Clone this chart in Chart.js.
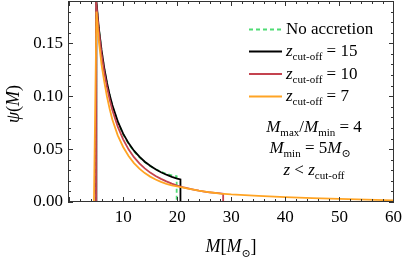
<!DOCTYPE html>
<html>
<head>
<meta charset="utf-8">
<script src="https://cdn.jsdelivr.net/npm/chart.js@4.4.1/dist/chart.umd.min.js"></script>
<style>
  html, body { margin: 0; padding: 0; background: #fff; }
  #wrap { width: 404px; height: 262px; }
</style>
</head>
<body>
<div id="wrap"><canvas id="psi-chart"></canvas></div>
<script>
// Values
const xTicks = [10, 20, 30, 40, 50, 60];
const yTicks = [0, 0.05, 0.10, 0.15];

const noAccM   = [0, 5, 5, 5.5, 6, 6.5, 7, 7.5, 8, 9, 10, 11, 12, 13, 14, 15, 16, 17, 18, 19, 19.9, 19.9, 60.1];
const noAccPsi = [0, 0, 0.19, 0.1636, 0.1427, 0.1258, 0.112, 0.1005, 0.0908, 0.0755, 0.064, 0.0551, 0.048, 0.0424, 0.0378, 0.034, 0.031, 0.0286, 0.0266, 0.0252, 0.0243, 0, 0];

const z15M   = [0, 5.05, 5.05, 5.5, 6, 6.5, 7, 7.5, 8, 9, 10, 11, 12, 13, 14, 15, 16, 17, 18, 19, 20, 20.6, 20.6, 60.1];
const z15Psi = [0, 0, 0.19, 0.1645, 0.1437, 0.1268, 0.113, 0.1013, 0.0916, 0.0762, 0.0646, 0.0557, 0.0485, 0.0428, 0.0381, 0.0342, 0.0309, 0.0281, 0.0258, 0.0238, 0.0222, 0.0214, 0, 0];

const z10M   = [0, 5, 5, 5.5, 6, 6.5, 7, 7.5, 8, 9, 10, 11, 12, 13, 14, 15, 16, 17, 18, 19, 20, 21, 22, 23, 24, 25, 26, 27, 28, 28.5, 28.5, 60.1];
const z10Psi = [0, 0, 0.19, 0.162, 0.14, 0.123, 0.109, 0.097, 0.087, 0.0712, 0.0592, 0.0498, 0.0424, 0.0365, 0.0318, 0.0278, 0.0246, 0.0219, 0.0195, 0.0174, 0.0155, 0.014, 0.0128, 0.0117, 0.0107, 0.0099, 0.0092, 0.0086, 0.0081, 0.0078, 0, 0];

const z7M   = [0, 4.6, 5.07, 5.5, 6, 6.5, 7, 7.5, 8, 9, 10, 11, 12, 13, 14, 15, 16, 17, 18, 19, 20, 22, 24, 26, 28, 30, 35, 40, 45, 50, 55, 60.1];
const z7Psi = [0, 0, 0.18, 0.152, 0.13, 0.114, 0.1, 0.088, 0.078, 0.063, 0.052, 0.0435, 0.0368, 0.0315, 0.0273, 0.024, 0.0213, 0.019, 0.0172, 0.0158, 0.0147, 0.0126, 0.0107, 0.0092, 0.008, 0.0072, 0.0058, 0.0047, 0.0037, 0.0029, 0.0022, 0.0016];

const seriesNames = ['No accretion', 'z_cut-off = 15', 'z_cut-off = 10', 'z_cut-off = 7'];
const cutoffs = [15, 10, 7];
const seriesColors = ['#4fdc74', '#000000', '#c4434f', '#ffa424'];

const SERIF = '"Liberation Serif", "DejaVu Serif", serif';

function toPoints(ms, ps) {
    return ms.map((m, i) => ({ x: m, y: ps[i] }));
}

// draw a run list like [{t:'z', it:true}, {t:'cut-off', sub:true}, {t:' = 15'}]
function drawRich(ctx, runs, x, y, align, size) {
    const fontFor = r => (r.it ? 'italic ' : '') + (r.sub ? Math.round(size * 0.62) : size) + 'px ' + SERIF;
    let w = 0;
    runs.forEach(r => { ctx.font = fontFor(r); w += ctx.measureText(r.t).width; });
    let cx = align === 'center' ? x - w / 2 : x;
    runs.forEach(r => {
        ctx.font = fontFor(r);
        ctx.fillText(r.t, cx, y + (r.sub ? size * 0.25 : 0));
        cx += ctx.measureText(r.t).width;
    });
}

// Frame with inward ticks on all four sides, legend and annotations
const framePlugin = {
    id: 'frame',
    afterDatasetsDraw(chart) {
        const { ctx, chartArea: a, scales: { x, y } } = chart;
        ctx.save();
        ctx.strokeStyle = '#333';
        ctx.lineWidth = 1;
        ctx.strokeRect(a.left + 0.5, a.top + 0.5, a.right - a.left - 1, a.bottom - a.top - 1);

        ctx.beginPath();
        for (let m = 0; m <= 60; m += 2) {
            const px = Math.round(x.getPixelForValue(m)) + 0.5;
            const len = m % 10 === 0 ? 5 : 3;
            ctx.moveTo(px, a.bottom); ctx.lineTo(px, a.bottom - len);
            ctx.moveTo(px, a.top); ctx.lineTo(px, a.top + len);
        }
        for (let k = 0; k <= 19; k++) {
            const py = Math.round(y.getPixelForValue(k / 100)) + 0.5;
            const len = k % 5 === 0 ? 5 : 3;
            ctx.moveTo(a.left, py); ctx.lineTo(a.left + len, py);
            ctx.moveTo(a.right, py); ctx.lineTo(a.right - len, py);
        }
        ctx.stroke();

        // legend
        ctx.fillStyle = '#000';
        ctx.textBaseline = 'alphabetic';
        const rows = [34, 56, 78.5, 101];
        chart.data.datasets.slice().sort((p, q) => p.legendIndex - q.legendIndex).forEach((ds, i) => {
            const ly = rows[i] - 4.5;
            ctx.strokeStyle = ds.borderColor;
            ctx.lineWidth = 1.8;
            ctx.setLineDash(ds.borderDash || []);
            ctx.beginPath();
            ctx.moveTo(249, ly); ctx.lineTo(282, ly);
            ctx.stroke();
            ctx.setLineDash([]);
            if (i === 0) {
                drawRich(ctx, [{ t: seriesNames[0] }], 286, rows[i], 'left', 17);
            } else {
                drawRich(ctx, [{ t: 'z', it: true }, { t: 'cut-off', sub: true }, { t: ' = ' + cutoffs[i - 1] }], 286, rows[i], 'left', 17);
            }
        });

        drawRich(ctx, [{ t: 'M', it: true }, { t: 'max', sub: true }, { t: '/' }, { t: 'M', it: true }, { t: 'min', sub: true }, { t: ' = 4' }], 314, 132, 'center', 17);
        drawRich(ctx, [{ t: 'M', it: true }, { t: 'min', sub: true }, { t: ' = 5' }, { t: 'M', it: true }, { t: '\u2299', sub: true }], 310, 153, 'center', 17);
        drawRich(ctx, [{ t: 'z', it: true }, { t: ' < ' }, { t: 'z', it: true }, { t: 'cut-off', sub: true }], 314, 175, 'center', 17);

        // axis titles
        drawRich(ctx, [{ t: 'M', it: true }, { t: '[' }, { t: 'M', it: true }, { t: '\u2299', sub: true }, { t: ']' }], 231, 252, 'center', 18);
        ctx.translate(19, 104);
        ctx.rotate(-Math.PI / 2);
        drawRich(ctx, [{ t: '\u03c8', it: true }, { t: '(' }, { t: 'M', it: true }, { t: ')' }], 0, 0, 'center', 18);
        ctx.restore();
    }
};

const datasets = [
    { label: seriesNames[0], data: toPoints(noAccM, noAccPsi), borderColor: seriesColors[0], borderDash: [4, 3], order: 3, legendIndex: 0 },
    { label: seriesNames[1], data: toPoints(z15M, z15Psi), borderColor: seriesColors[1], order: 2, legendIndex: 1 },
    { label: seriesNames[2], data: toPoints(z10M, z10Psi), borderColor: seriesColors[2], order: 1, legendIndex: 2 },
    { label: seriesNames[3], data: toPoints(z7M, z7Psi), borderColor: seriesColors[3], order: 0, legendIndex: 3 }
].map(ds => Object.assign({ borderWidth: 1.8, pointRadius: 0, tension: 0, fill: false }, ds));

new Chart(document.getElementById('psi-chart').getContext('2d'), {
    type: 'line',
    data: { datasets: datasets },
    options: {
        responsive: true,
        maintainAspectRatio: false,
        animation: false,
        layout: { padding: { left: 0, right: 10, top: 1, bottom: 0 } },
        scales: {
            x: {
                type: 'linear',
                min: -0.2,
                max: 60.1,
                afterBuildTicks: s => { s.ticks = xTicks.map(v => ({ value: v })); },
                afterFit: s => { s.height = 60; s.paddingLeft = 0; s.paddingRight = 0; },
                grid: { display: false, drawTicks: false },
                border: { display: false },
                ticks: {
                    padding: 5,
                    color: '#000',
                    font: { family: SERIF, size: 17 },
                    maxRotation: 0,
                    callback: v => String(v)
                }
            },
            y: {
                min: 0,
                max: 0.19,
                afterBuildTicks: s => { s.ticks = yTicks.map(v => ({ value: v })); },
                afterFit: s => { s.width = 68; s.paddingTop = 0; s.paddingBottom = 0; },
                grid: { display: false, drawTicks: false },
                border: { display: false },
                ticks: {
                    padding: 5,
                    color: '#000',
                    font: { family: SERIF, size: 17 },
                    callback: v => v.toFixed(2)
                }
            }
        },
        plugins: {
            legend: { display: false },
            tooltip: { enabled: false }
        }
    },
    plugins: [framePlugin]
});
</script>
</body>
</html>
